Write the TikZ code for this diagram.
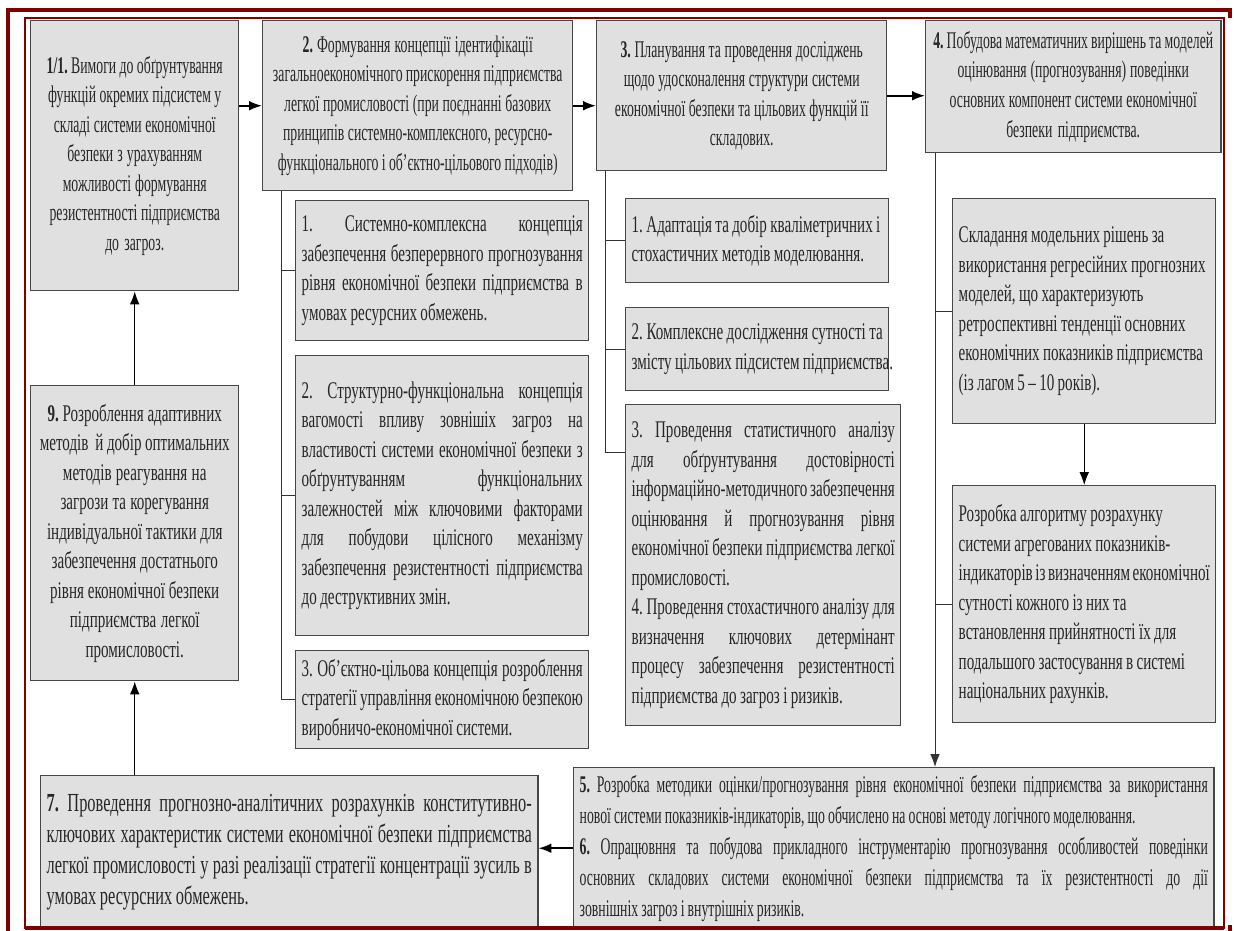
\documentclass[tikz,border=0pt]{standalone}
\usepackage{fontspec}
\setmainfont{Liberation Serif}[FakeStretch=0.575,WordSpace=0.9]
\newfontfamily\widefont{Liberation Serif}[FakeStretch=0.63,WordSpace=0.9]
\usepackage{tikz}
\usetikzlibrary{arrows.meta,calc,positioning}
\definecolor{framered}{RGB}{128,0,0}
\definecolor{boxgray}{RGB}{224,224,224}
\newcommand{\jline}[1]{\makebox[\hsize][s]{#1}}

\begin{document}
\begin{tikzpicture}[x=0.025cm,y=-0.025cm,
    box/.style={draw=black!72, fill=boxgray, line width=1pt, anchor=north west,
        inner xsep=0.15cm, inner ysep=0pt, text=black!85,
        font=\fontsize{17}{21}\selectfont,
        execute at begin node={\spaceskip=0pt\xspaceskip=0pt\frenchspacing}},
    cbox/.style={box, align=center},
    jbox/.style={box, align=left},
    wide/.style={font=\widefont\fontsize{17}{21}\selectfont},
    arr/.style={-{Latex[length=3.2mm,width=2.4mm]}, line width=0.7pt},
    link/.style={line width=0.7pt, black!80}]

    \useasboundingbox (0,0) rectangle (1234,931);

    % top row
    \node [cbox, text width=4.9cm, minimum height=6.75cm] (b1) at (30,20) {%
        {\bfseries 1/1.} Вимоги до обґрунтування\\
        функцій окремих підсистем у\\
        складі системи економічної\\
        безпеки з урахуванням\\
        можливості формування\\
        резистентності підприємства\\
        до загроз.};
    \node [cbox, text width=7.45cm, minimum height=4.25cm] (b2) at (262,20) {%
        {\bfseries 2.} Формування концепції ідентифікації\\
        загальноекономічного прискорення підприємства\\
        легкої промисловості (при поєднанні базових\\
        принципів системно-комплексного, ресурсно-\\
        функціонального і об’єктно-цільового підходів)};
    \node [cbox, text width=6.95cm, minimum height=3.75cm] (b3) at (596,20) {%
        {\bfseries 3.} Планування та проведення досліджень\\
        щодо удосконалення структури системи\\
        економічної безпеки та цільових функцій її\\
        складових.};
    \node [cbox, text width=7.075cm, minimum height=3.3cm] (b4) at (925,20) {%
        {\bfseries 4.} Побудова математичних вирішень та моделей\\
        оцінювання (прогнозування) поведінки\\
        основних компонент системи економічної\\
        безпеки підприємства.};

    % concepts under 2
    \node [jbox, wide, text width=7.025cm, minimum height=3.5cm] (s21) at (295,200) {%
        \jline{1. Системно-комплексна концепція}\\
        \jline{забезпечення безперервного прогнозування}\\
        \jline{рівня економічної безпеки підприємства в}\\
        умовах ресурсних обмежень.};
    \node [jbox, wide, text width=7.025cm, minimum height=7cm] (s22) at (295,355) {%
        \jline{2. Структурно-функціональна концепція}\\
        \jline{вагомості впливу зовнішіх загроз на}\\
        \jline{властивості системи економічної безпеки з}\\
        \jline{обґрунтуванням функціональних}\\
        \jline{залежностей між ключовими факторами}\\
        \jline{для побудови цілісного механізму}\\
        \jline{забезпечення резистентності підприємства}\\
        до деструктивних змін.};
    \node [jbox, wide, text width=7.025cm, minimum height=2.45cm] (s23) at (295,650) {%
        \jline{3. Об’єктно-цільова концепція розроблення}\\
        \jline{стратегії управління економічною безпекою}\\
        виробничо-економічної системи.};

    % steps under 3
    \node [jbox, wide, text width=6.275cm, minimum height=2.1cm] (s31) at (625,198) {%
        1. Адаптація та добір кваліметричних і\\
        стохастичних методів моделювання.};
    \node [jbox, wide, text width=6.275cm, minimum height=2.075cm] (s32) at (625,307) {%
        \jline{2. Комплексне дослідження сутності та}\\
        \mbox{змісту цільових підсистем підприємства.}};
    \node [jbox, wide, text width=6.575cm, minimum height=8.025cm] (s33) at (625,404) {%
        \jline{3. Проведення статистичного аналізу}\\
        \jline{для обґрунтування достовірності}\\
        \jline{інформаційно-методичного забезпечення}\\
        \jline{оцінювання й прогнозування рівня}\\
        \jline{економічної безпеки підприємства легкої}\\
        промисловості.\\
        \jline{4. Проведення стохастичного аналізу для}\\
        \jline{визначення ключових детермінант}\\
        \jline{процесу забезпечення резистентності}\\
        підприємства до загроз і ризиків.};

    % models under 4
    \node [jbox, wide, text width=6.275cm, minimum height=5.625cm] (s41) at (952,198) {%
        Складання модельних рішень за\\
        використання регресійних прогнозних\\
        моделей, що характеризують\\
        ретроспективні тенденції основних\\
        економічних показників підприємства\\
        (із лагом 5 – 10 років).};
    \node [jbox, wide, text width=6.275cm, minimum height=5.925cm] (s42) at (952,485) {%
        Розробка алгоритму розрахунку\\
        системи агрегованих показників-\\
        індикаторів із визначенням економічної\\
        сутності кожного із них та\\
        встановлення прийнятності їх для\\
        подальшого застосування в системі\\
        національних рахунків.};

    % left column and bottom row
    \node [cbox, wide, text width=4.9cm, minimum height=7.375cm] (b9) at (30,385) {%
        {\bfseries 9.} Розроблення адаптивних\\
        методів~ й добір оптимальних\\
        методів реагування на\\
        загрози та корегування\\
        індивідуальної тактики для\\
        забезпечення достатнього\\
        рівня економічної безпеки\\
        підприємства легкої\\
        промисловості.};
    \node [jbox, text width=12.125cm, minimum height=3.825cm,
        font=\widefont\fontsize{18.5}{22}\selectfont] (b7) at (40,775) {%
        \jline{{\bfseries 7.} Проведення прогнозно-аналітичних розрахунків конститутивно-}\\
        \jline{ключових характеристик системи економічної безпеки підприємства}\\
        \jline{легкої промисловості у разі реалізації стратегії концентрації зусиль в}\\
        умовах ресурсних обмежень.};
    \node [jbox, text width=15.7cm, minimum height=4.025cm,
        font=\fontsize{17}{22}\selectfont] (b56) at (573,767) {%
        \jline{{\bfseries 5.} Розробка методики оцінки/прогнозування рівня економічної безпеки підприємства за використання}\\
        нової системи показників-індикаторів, що обчислено на основі методу логічного моделювання.\\
        \jline{{\bfseries 6.} Опрацювння та побудова прикладного інструментарію прогнозування особливостей поведінки}\\
        \jline{основних складових системи економічної безпеки підприємства та їх резистентності до дії}\\
        зовнішніх загроз і внутрішніх ризиків.};

    % trunks
    \coordinate (t2) at (281,0);
    \coordinate (t3) at (605,0);
    \coordinate (t4) at (935,0);
    \draw [link] (b2.south -| t2) |- (s23.west);
    \draw [link] (t2 |- s21.west) -- (s21.west);
    \draw [link] (t2 |- s22.west) -- (s22.west);
    \draw [link] (b3.south -| t3) |- ([yshift=-1.2cm]s33.north west);
    \draw [link] (t3 |- s31.west) -- (s31.west);
    \draw [link] (t3 |- s32.west) -- (s32.west);
    \draw [link, arr] (b4.south -| t4) -- (b56.north -| t4);
    \draw [link] (t4 |- s41.west) -- (s41.west);
    \draw [link] (t4 |- s42.west) -- (s42.west);
    \draw [arr] (s41.south) -- (s42.north);

    % main flow
    \draw [arr, line width=1.2pt] (b1.east |- b2.west) -- (b2.west);
    \draw [arr, line width=1.2pt] (b2.east) -- (b2.east -| b3.west);
    \draw [arr, line width=1.2pt] (b3.east) -- (b3.east -| b4.west);
    \draw [arr, line width=1.2pt] (b56.west) -- (b56.west -| b7.east);
    \draw [arr] (b9.south |- b7.north) -- (b9.south);
    \draw [arr] (b9.north) -- (b1.south);

    % frame
    \draw [framered, line width=2.2pt] (8,931) -- (8,10) -- (1230,10) -- (1230,18);
    \draw [framered, line width=1.6pt] (25,18) rectangle (1224,928);
    \draw [framered, line width=2.4pt] (25,928) -- (1224,928);
    \fill [framered] (1228,925) rectangle (1232,931);
\end{tikzpicture}
\end{document}
